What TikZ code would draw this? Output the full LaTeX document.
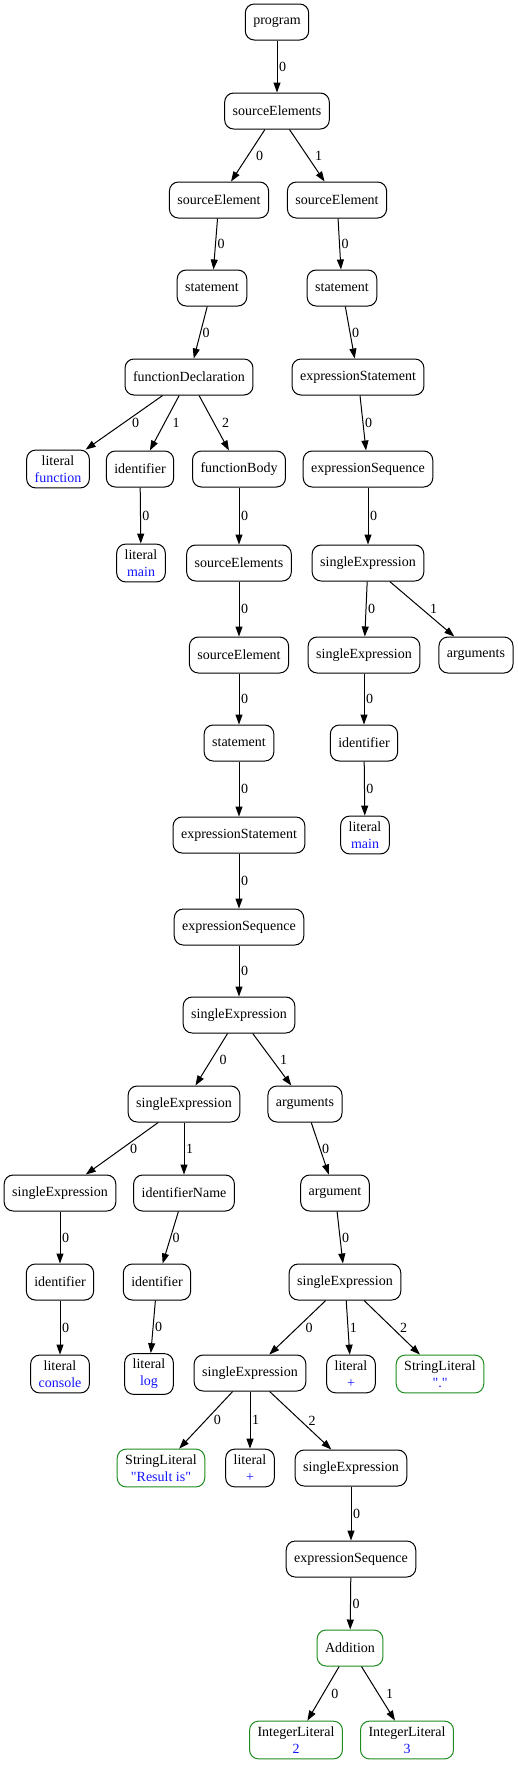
\documentclass[tikz,border=0pt]{standalone}
\usepackage{xcolor}
\usepackage{fontspec}
\setmainfont{Liberation Serif}
\usepackage{tikz}
\usetikzlibrary{arrows.meta}
\definecolor{litgreen}{RGB}{30,140,30}
\definecolor{litblue}{RGB}{20,20,255}

\begin{document}
\begin{tikzpicture}[x=1pt,y=-1pt,
    tnode/.style={draw, line width=1pt, rounded corners=9pt, inner xsep=8pt, inner ysep=5.5pt,
      minimum height=36pt, align=center, font=\fontsize{14}{17}\selectfont},
    gnode/.style={tnode, draw=litgreen},
    edge/.style={line width=1pt, -{Triangle[length=10pt,width=7pt]}},
    lbl/.style={midway, right, inner sep=1.5pt, font=\fontsize{14}{17}\selectfont},
    lbld/.style={lbl, xshift=6pt}]
    \useasboundingbox (0,0) rectangle (517,1765);
    % Nodes
    \node[tnode] (prog) at (277,22) {program};
    \node[tnode] (srcEls) at (277,111) {sourceElements};
    \node[tnode] (srcElL) at (219,200) {sourceElement};
    \node[tnode] (srcElR) at (337,200) {sourceElement};
    \node[tnode] (stmtL) at (212,288) {statement};
    \node[tnode] (stmtR) at (342,288) {statement};
    \node[tnode] (funcDecl) at (189,377) {functionDeclaration};
    \node[tnode] (exprStmtR) at (358,377) {expressionStatement};
    \node[tnode] (litFunc) at (58,469) {literal\\\textcolor{litblue}{function}};
    \node[tnode] (identMain) at (140,469) {identifier};
    \node[tnode] (funcBody) at (239,469) {functionBody};
    \node[tnode] (exprSeqR) at (368,469) {expressionSequence};
    \node[tnode] (litMainL) at (141,563) {literal\\\textcolor{litblue}{main}};
    \node[tnode] (srcEls2) at (239,563) {sourceElements};
    \node[tnode] (singleR) at (368,563) {singleExpression};
    \node[tnode] (srcEl2) at (239,655) {sourceElement};
    \node[tnode] (singleR2) at (364,655) {singleExpression};
    \node[tnode] (argsR) at (476,655) {arguments};
    \node[tnode] (stmt2) at (239,743) {statement};
    \node[tnode] (identR) at (364,743) {identifier};
    \node[tnode] (exprStmt2) at (239,835) {expressionStatement};
    \node[tnode] (litMainR) at (365,835) {literal\\\textcolor{litblue}{main}};
    \node[tnode] (exprSeq2) at (239,927) {expressionSequence};
    \node[tnode] (single1) at (239,1015) {singleExpression};
    \node[tnode] (single2) at (184,1104) {singleExpression};
    \node[tnode] (args) at (305,1104) {arguments};
    \node[tnode] (single3) at (60,1193) {singleExpression};
    \node[tnode] (identName) at (184,1193) {identifierName};
    \node[tnode] (arg) at (335,1193) {argument};
    \node[tnode] (identCon) at (60,1282) {identifier};
    \node[tnode] (identLog) at (157,1282) {identifier};
    \node[tnode] (single4) at (345,1282) {singleExpression};
    \node[tnode] (litCon) at (60,1374) {literal\\\textcolor{litblue}{console}};
    \node[tnode] (litLog) at (149,1374) {literal\\\textcolor{litblue}{log}};
    \node[tnode] (single5) at (250,1373) {singleExpression};
    \node[tnode] (litPlus1) at (351,1374) {literal\\\textcolor{litblue}{+}};
    \node[gnode] (strDot) at (440,1374) {StringLiteral\\\textcolor{litblue}{\textquotedbl.\textquotedbl}};
    \node[gnode] (strRes) at (161,1468) {StringLiteral\\\textcolor{litblue}{\textquotedbl Result is\textquotedbl}};
    \node[tnode] (litPlus2) at (250,1468) {literal\\\textcolor{litblue}{+}};
    \node[tnode] (single6) at (351,1468) {singleExpression};
    \node[tnode] (exprSeq3) at (351,1559) {expressionSequence};
    \node[gnode] (addition) at (350,1648) {Addition};
    \node[gnode] (int2) at (296,1740) {IntegerLiteral\\\textcolor{litblue}{2}};
    \node[gnode] (int3) at (407,1740) {IntegerLiteral\\\textcolor{litblue}{3}};
    % Edges
    \draw[edge] (prog) -- node[lbl]{0} (srcEls);
    \draw[edge] (srcEls) -- node[lbld]{0} (srcElL);
    \draw[edge] (srcEls) -- node[lbld]{1} (srcElR);
    \draw[edge] (srcElL) -- node[lbl]{0} (stmtL);
    \draw[edge] (srcElR) -- node[lbl]{0} (stmtR);
    \draw[edge] (stmtL) -- node[lbl]{0} (funcDecl);
    \draw[edge] (stmtR) -- node[lbl]{0} (exprStmtR);
    \draw[edge] (funcDecl) -- node[lbld]{0} (litFunc);
    \draw[edge] (funcDecl) -- node[lbld]{1} (identMain);
    \draw[edge] (funcDecl) -- node[lbld]{2} (funcBody);
    \draw[edge] (exprStmtR) -- node[lbl]{0} (exprSeqR);
    \draw[edge] (identMain) -- node[lbl]{0} (litMainL);
    \draw[edge] (funcBody) -- node[lbl]{0} (srcEls2);
    \draw[edge] (exprSeqR) -- node[lbl]{0} (singleR);
    \draw[edge] (srcEls2) -- node[lbl]{0} (srcEl2);
    \draw[edge] (singleR) -- node[lbl]{0} (singleR2);
    \draw[edge] (singleR) -- node[lbld]{1} (argsR);
    \draw[edge] (srcEl2) -- node[lbl]{0} (stmt2);
    \draw[edge] (singleR2) -- node[lbl]{0} (identR);
    \draw[edge] (stmt2) -- node[lbl]{0} (exprStmt2);
    \draw[edge] (identR) -- node[lbl]{0} (litMainR);
    \draw[edge] (exprStmt2) -- node[lbl]{0} (exprSeq2);
    \draw[edge] (exprSeq2) -- node[lbl]{0} (single1);
    \draw[edge] (single1) -- node[lbld]{0} (single2);
    \draw[edge] (single1) -- node[lbld]{1} (args);
    \draw[edge] (single2) -- node[lbld]{0} (single3);
    \draw[edge] (single2) -- node[lbl]{1} (identName);
    \draw[edge] (args) -- node[lbl]{0} (arg);
    \draw[edge] (single3) -- node[lbl]{0} (identCon);
    \draw[edge] (identName) -- node[lbl]{0} (identLog);
    \draw[edge] (arg) -- node[lbl]{0} (single4);
    \draw[edge] (identCon) -- node[lbl]{0} (litCon);
    \draw[edge] (identLog) -- node[lbl]{0} (litLog);
    \draw[edge] (single4) -- node[lbld]{0} (single5);
    \draw[edge] (single4) -- node[lbl]{1} (litPlus1);
    \draw[edge] (single4) -- node[lbld]{2} (strDot);
    \draw[edge] (single5) -- node[lbld]{0} (strRes);
    \draw[edge] (single5) -- node[lbl]{1} (litPlus2);
    \draw[edge] (single5) -- node[lbld]{2} (single6);
    \draw[edge] (single6) -- node[lbl]{0} (exprSeq3);
    \draw[edge] (exprSeq3) -- node[lbl]{0} (addition);
    \draw[edge] (addition) -- node[lbld]{0} (int2);
    \draw[edge] (addition) -- node[lbld]{1} (int3);
\end{tikzpicture}
\end{document}
